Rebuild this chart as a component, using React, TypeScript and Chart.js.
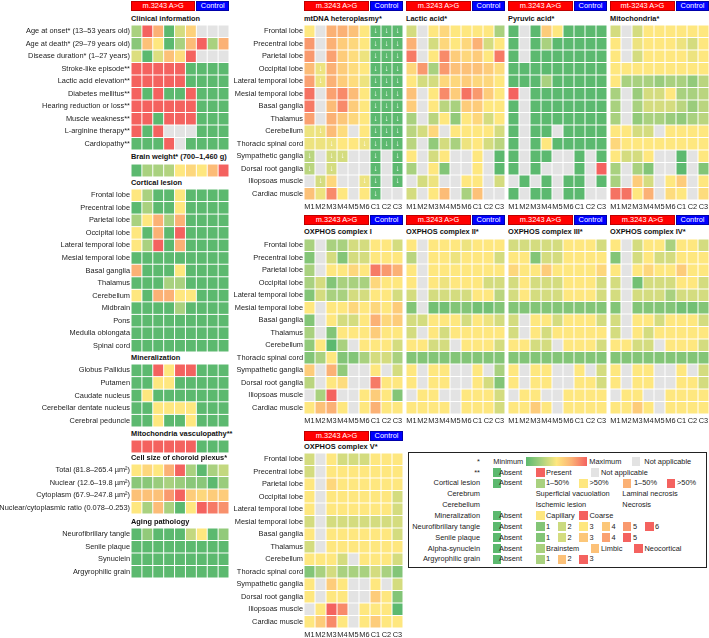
import React, { useEffect, useRef } from "react";
import { Chart, registerables } from "chart.js";
Chart.register(...registerables);

type Cell = number | null;
const N = null;

// ---------- labels ----------
const SAMPLE_COLS = ["M1", "M2", "M3", "M4", "M5", "M6", "C1", "C2", "C3"];
const CLINICAL_ROWS = [
  "Age at onset* (13\u201353 years old)",
  "Age at death* (29\u201379 years old)",
  "Disease duration* (1\u201327 years)",
  "Stroke-like episode**",
  "Lactic acid elevation**",
  "Diabetes mellitus**",
  "Hearing reduction or loss**",
  "Muscle weakness**",
  "L-arginine therapy**",
  "Cardiopathy**",
];
const CORTICAL_ROWS = [
  "Frontal lobe", "Precentral lobe", "Parietal lobe", "Occipital lobe", "Lateral temporal lobe",
  "Mesial temporal lobe", "Basal ganglia", "Thalamus", "Cerebellum", "Midbrain", "Pons",
  "Medulla oblongata", "Spinal cord",
];
const MINERAL_ROWS = ["Globus Pallidus", "Putamen", "Caudate nucleus", "Cerebellar dentate nucleus", "Cerebral peduncle"];
const CELLSIZE_ROWS = [
  "Total (81.8\u2013265.4 \u00b5m\u00b2)",
  "Nuclear (12.6\u201319.8 \u00b5m\u00b2)",
  "Cytoplasm (67.9\u2013247.8 \u00b5m\u00b2)",
  "Nuclear/cytoplasmic ratio (0.078\u20130.253)",
];
const AGING_ROWS = ["Neurofibrillary tangle", "Senile plaque", "Synuclein", "Argyrophilic grain"];
const TISSUE_ROWS = [
  "Frontal lobe", "Precentral lobe", "Parietal lobe", "Occipital lobe", "Lateral temporal lobe",
  "Mesial temporal lobe", "Basal ganglia", "Thalamus", "Cerebellum", "Thoracic spinal cord",
  "Sympathetic ganglia", "Dorsal root ganglia", "Iliopsoas muscle", "Cardiac muscle",
];

// ---------- values (0 = green/minimum/absent ... 4 = red/maximum/present, null = not applicable) ----------
const clinicalValues: Cell[][] = [
  [1, 4, 3, 0, 1.5, 2.4, N, N, N],
  [0.6, 2.7, 2, 0, 1, 2.8, 4, 1, 3],
  [1.6, 0, 1.6, 2.7, 2.2, 4, N, N, N],
  [4, 4, 4, 4, 4, 0, 0, 0, 0],
  [4, 4, 4, 4, 4, 0, 0, 0, 0],
  [4, 0, 4, 0, 0, 4, 0, 0, 0],
  [4, 4, 4, 4, 4, 4, 0, 0, 0],
  [4, 4, 0, 4, 4, 4, 0, 0, 0],
  [4, 0, 4, N, N, N, 0, 0, 0],
  [0, 0, 0, 4, N, 0, 0, 0, 0],
];
const brainWeightValues: Cell[][] = [[0, 1, 1, 1.1, 2, 2.3, 2, 2.8, 4]];
const corticalValues: Cell[][] = [
  [2, 1, 0, 0, 2, 0, 0, 0, 0],
  [0, 1, 0, 0, 2, 0, 0, 0, 0],
  [1, 2, 3, 1, 3, 0, 0, 0, 0],
  [2, 0, 3, 0, 4, 0, 0, 0, 0],
  [2, 1, 4, 0, 3, 0, 0, 0, 0],
  [0, 0, 0, 0, 0, 0, 0, 0, 0],
  [3, 0, 0, 0, 2, 0, 0, 0, 0],
  [0, 0, 0, 1, 1, 0, 0, 0, 0],
  [2, 0, 3, 3, 2, 2, 0, 0, 0],
  [0, 0, 0, 0, 1, 0, 0, 0, 0],
  [0, 0, 0, 0, 0, 0, 0, 0, 0],
  [0, 0, 0, 0, 0, 0, 0, 0, 0],
  [0, 0, 0, 0, 0, 0, 0, 0, 0],
];
const mineralValues: Cell[][] = [
  [0, 0, 4, 2, 4, 4, 0, 0, 0],
  [0, 0, 2, 2, 0, 0, 0, 0, 0],
  [0, 2, 0, 0, 0, 0, 0, 0, 0],
  [0, 0, 2, 2, 2, 2, 0, 0, 0],
  [0, 0, 2, 0, 0, 2, 0, 0, 0],
];
const vasculopathyValues: Cell[][] = [[4, 4, 4, 4, 4, 4, 0, 0, 0]];
const cellSizeValues: Cell[][] = [
  [2, 2.3, 2, 3, 4, 1, 0, 1, 1.3],
  [0.6, 0.6, 0.8, 1, 0.8, 0.6, 0.6, 0, 0.8],
  [2.7, 2.7, 2.7, 3.3, 4, 2.5, 2.3, 2.5, 2.5],
  [2, 1, 2.8, 1, 0, 2, 4, 3.7, 3.4],
];
const agingValues: Cell[][] = [
  [0, 0.7, 0, 0, 0, 1.3, 2, 0, 0.7],
  [0, 0, 0, 0, 0, 0, 0, 0, 0],
  [0, 0, 0, 0, 0, 0, 0, 0, 0],
  [0, 0, 0, 0, 0, 0, 0, 0, 0],
];

const mtdnaValues: Cell[][] = [
  [2, N, 3, 3, 2.7, 2, 0, 0, 0],
  [3.3, N, 3, 2.5, 2.3, 2, 0, 0, 0],
  [3.3, N, 3.2, 2.5, 2.2, 1.8, 0, 0, 0],
  [2.8, 1.8, 3, 2.5, 2.2, 2, 0, 0, 0],
  [3.2, 1.8, 3, 2.5, 2.2, 1.8, 0, 0, 0],
  [3.8, N, 3.2, 3.5, 2.8, 2, 0, 0, 0],
  [3.7, N, 2.8, 3.5, 2.5, 2, 0, 0, 0],
  [3.2, N, 3, 2.6, 2.3, 2, 0, 0, 0],
  [1.8, 1.8, 2.8, 2.2, N, 2, 0, 0, 0],
  [1.8, 1.8, 1.8, 2, 2, 1.8, 0, 0, 0],
  [1.2, N, 1.5, 1.5, N, N, 0, N, 0],
  [1.2, N, 1.5, N, N, N, 0, N, 0],
  [N, 1.5, 2.3, N, N, 1.8, 0, N, 0],
  [2.7, 1.8, 3.5, 2, N, 2, 0, N, N],
];
// 1 = below detection limit (arrow)
const mtdnaBelowDetection: number[][] = [
  [0, 0, 0, 0, 0, 0, 1, 1, 1],
  [0, 0, 0, 0, 0, 0, 1, 1, 1],
  [0, 0, 0, 0, 0, 0, 1, 1, 1],
  [0, 1, 0, 0, 0, 0, 1, 1, 1],
  [0, 1, 0, 0, 0, 0, 1, 1, 1],
  [0, 0, 0, 0, 0, 0, 1, 1, 1],
  [0, 0, 0, 0, 0, 0, 1, 1, 1],
  [0, 0, 0, 0, 0, 0, 1, 1, 1],
  [0, 1, 0, 0, 0, 0, 1, 1, 1],
  [0, 0, 1, 0, 0, 1, 1, 1, 1],
  [1, 0, 1, 1, 0, 0, 1, 0, 1],
  [1, 0, 1, 0, 0, 0, 1, 0, 1],
  [0, 1, 0, 0, 0, 1, 1, 0, 1],
  [0, 0, 0, 0, 0, 0, 1, 0, 0],
];
const lacticValues: Cell[][] = [
  [1.5, N, 2, 2.3, 2, 2, 2, 2, 1],
  [3, N, 1.5, 2.3, 2, 2.3, 3, 1.5, 2],
  [3.7, N, 2, 3.5, 2.5, 2.3, 2.5, 2, 3.7],
  [2.3, 3.3, 1, 3.3, 2.7, 2.7, 2.7, 2.5, 2.2],
  [2, 1.5, 1.5, 2.3, 2.3, 2.5, 2.3, 2.3, 2],
  [2.7, N, 2, 3.5, 2.5, 3.8, 3.3, 2.5, 2],
  [2.5, N, 2, 1.2, 1, 2.5, 2.5, 2, 2],
  [1, N, 1.2, 2, 0.7, 2, 2.3, 1.5, 2],
  [1.2, 1.5, 2.3, N, 2, 2, 2, 2, 1.5],
  [1.2, N, 0.7, 1.5, 1, 1.8, 2, 1.5, 1.2],
  [2, N, 1.5, 2, N, N, 2, N, 0],
  [1, N, 2, 0.5, N, N, 2, N, 0],
  [N, 1.5, 1.8, N, N, 2, 2, N, 1.5],
  [1.5, N, 2, 2.8, N, 1, 2.7, N, N],
];
const pyruvicValues: Cell[][] = [
  [0, N, 0, 2.5, 2, 0, 0, 0, 0],
  [0, N, 0, 1, 0, 0, 0, 0, 0],
  [0, N, 0, 0, 0, 0, 0, 0, 0],
  [0, 0, 0, 0, 0, 0, 0, 0, 0],
  [0, 0, 0, 1, 0, 0, 0, 0, 0],
  [4, N, 0, 0, 0, 0, 0, 0, 0],
  [0, N, 0, 0, 0, 0, 0, 0, 0],
  [0, N, 0, 0, 0, 0, 0, 0, 0],
  [0, N, 0, 0, N, 0, 0, 0, 0],
  [0, N, 0, 2, 0, 0, 0, 0, 0],
  [0, N, 0, 0, N, N, 0, N, 0],
  [0, N, 0, N, N, N, 0, N, 4],
  [N, 0, N, 0, N, 0, 0, N, 0],
  [0, N, 0, 0, N, 0, 0, N, N],
];
const mitochondriaValues: Cell[][] = [
  [1.5, N, 1.5, 2, 2, 2, 2, 2, 2],
  [2, N, 1.8, 2, 2, 2, 1.8, 1.5, 2],
  [2, N, 1.5, 2, 2, 2, 2, 1.8, 2],
  [2, 2, 2, 2, 2, 2, 2, 2, 2],
  [2, 1, 1, 1, 0.8, 1, 1, 0.7, 1.2],
  [1, N, 0.8, 1.5, 1.5, 2, 1, 1, 1.2],
  [1, N, 1, 1.5, 1.5, 1.5, 1.2, 0.8, 1.2],
  [1, N, 0.7, 1, 1, 0.8, 0.7, 1, 1.2],
  [2, 2, 1.5, 1.5, N, 2, 2, 2, 2],
  [2.3, 2, 2, 2, 2, 2, 2, 2, 2],
  [2, 1.5, 1.5, 2, N, N, 0, N, 2],
  [1, N, 1, 0.5, N, N, 0, N, 0.5],
  [1, N, 2.5, 1.5, N, 2, 2.5, N, 2],
  [3.8, 3.8, 2, 3, N, 2.2, 2, N, 2.2],
];
const oxphos1Values: Cell[][] = [
  [1, N, 1, 1, 1.5, 1.5, 2, 2, 1.5],
  [0.5, N, 1.5, 0.5, 1.5, 1.5, 2, 2, 2],
  [1, N, 2, 2, 2.3, 2, 3.7, 3.3, 3],
  [1, 1.5, 0.5, 1, 1, 1, 2.3, 2, 2],
  [0.5, 1.5, 1, 1, 1.5, 1.5, 2, 2, 1.5],
  [2, N, 2, 2, 2.3, 2, 2.3, 2, 2.5],
  [0.5, N, 2, 1.5, 1.5, 2, 3, 2.3, 2.5],
  [1, N, 0.5, 2, 2, 2, 2.5, 2, 2],
  [0.7, 2, 0, 1, N, 2, 2, 2, 1.5],
  [0.5, 1, 2, 0.5, 0.5, 1, 1.5, 1.5, 1],
  [2.5, N, 3, 0.7, N, N, 2, N, 1.5],
  [1.2, N, 2, 2.2, N, N, 3.7, 2, 2],
  [N, 1, 4, N, N, 2, 2.5, 2, 0.5],
  [2, 2.7, 3, 2, N, 2, 3, 2, 2],
];
const oxphos2Values: Cell[][] = [
  [2, N, 2, 2, 2, 1.8, 2, 2, 2],
  [1.2, N, 2, 2, 1.8, 2, 2, 2, 1.5],
  [2, N, 2, 2, 2, 2, 2, 2, 2],
  [2, N, 2, 1.8, 2, 2, 2, 1.5, 1.5],
  [1.5, N, 1.5, 1.5, 1.5, 1.5, 2, 2, 1.2],
  [0.5, N, 0.3, 0.3, 0.5, 0.5, 0.3, 0.3, 0.5],
  [1.5, 1.5, 2, 2, 2, 1.5, 2, 1.8, 1.5],
  [1.5, N, 2, 1.5, 2, 2, 2, 2, 2],
  [2, 2, 1.5, 1.5, N, 2, 2, 2, 1.5],
  [0.5, 0.5, 0.5, 0.5, 0.5, 0.5, 0.5, 0.5, 0.5],
  [2, N, 2, 2, N, N, 2, N, 1],
  [2, N, 2, 2, N, N, 2, 1.5, 0.5],
  [N, 2, 2, N, N, 2, 2, 2, 1.5],
  [2, 2, 2, 2, N, 2, 2, 2, 1.5],
];
const oxphos3Values: Cell[][] = [
  [1.5, 1.5, 1.5, 1.5, 1.5, 2, 2, 2, 1.5],
  [2, 2, 0.5, 1.5, 1.5, 2, 2, 2, 2],
  [2.3, 2, 2, 2.5, 2, 2, 2, 2, 2.3],
  [1.5, 2, 1.5, 1.5, 1.5, 2, 2, 2, 1.5],
  [1.5, 2, 1.5, 1.5, 1.5, 2, 2, 2, 1.5],
  [0.5, 0.5, 0.5, 0.5, 0.5, 0.5, 0.5, 0.5, 0.5],
  [1.5, N, 2, 2, 1.5, 2, 2, 2, 1.5],
  [1.5, N, 2, 1.5, 2, 2, 2, 2, 2],
  [2, 2, 1.5, 1.5, N, 2, 2, 2, 1.5],
  [0.5, 0.5, 0.5, 0.5, 0.5, 0.5, 0.5, 0.5, 0.5],
  [2, N, 2, 2, N, N, 2, N, 1.5],
  [2, N, 2, 2, N, N, 2, 2, 1.5],
  [N, 2, 2, N, N, 2, 2, 2, 2],
  [2, 2, 2.5, 2, N, 2, 2, 2, 2],
];
const oxphos4Values: Cell[][] = [
  [2, N, 1.5, 2, 2, 1, 2, 2, 1.5],
  [0.5, N, 1.5, 2, 1.5, 1.5, 2, 2, 2],
  [2, N, 2, 2.3, 2, 2, 2.5, 2, 2],
  [1.5, N, 0.3, 1.5, 1.5, 1.5, 2, 2, 1.5],
  [1.5, N, 1.5, 1.5, 1.5, 1, 1.5, 1.5, 1.5],
  [0.5, N, 0.5, 0.5, 0.5, 0.5, 0.3, 0.3, 0.5],
  [1.5, N, 2, 2, 1.5, 2, 2, 2, 1.5],
  [1.5, N, 2, 1.5, 2, 2, 2, 2, 2],
  [2, 2, 1.5, 1.5, N, 2, 2, 2, 1.5],
  [0.5, 0.5, 0.5, 0.5, 0.5, 0.5, 0.5, 0.5, 0.5],
  [2, N, 2, 2, N, N, 2, N, 1.5],
  [2, N, 2, 2, N, N, 2, 2, 1.5],
  [N, 2, 2, N, N, 2, 2, 2, 2],
  [2, 2, 2.5, 2, N, 2, 2, 2, 2],
];
const oxphos5Values: Cell[][] = [
  [1.5, N, 2, 1.5, 1.5, 1.5, 2, 2, 2],
  [1.5, N, 2, 2, 2, 2, 2, 2, 2],
  [2, N, 2.3, 2, 2, 2, 2, 2, 2],
  [2, N, 2, 2, 2, 2, 2, 2, 1.5],
  [2, N, 2, 2, 2, 2, 2, 2, 1.5],
  [1.5, N, 1.5, 1.5, 1.5, 1.5, 1.5, 1.5, 1.5],
  [2, N, 2, 2, 2, 2, 2, 2, 1.5],
  [1.5, N, 2, 2, 2, 2, 2, 2, 2],
  [2, 2, 2, 1.5, N, 2, 2, 2, 1.5],
  [0.5, 1, 1.5, 1, 1, 1, 1.5, 1, 0.5],
  [2, N, 2.5, 2, N, N, 2, N, 1.5],
  [2, N, 2, 2, N, N, 2.5, 2, 0.5],
  [N, 2, 4, 3.5, N, 2, 2, 2, 0],
  [2, 2.5, 3.5, 2, N, 2, 2.5, 2, 2],
];

// ---------- colours ----------
const STOPS = [
  [92, 185, 111],
  [169, 209, 127],
  [254, 231, 127],
  [251, 177, 117],
  [244, 98, 95],
];
const NA_COLOR = "#e3e3e3";
function colorFor(v: Cell): string {
  if (v === null) return NA_COLOR;
  const t = Math.max(0, Math.min(4, v));
  const i = Math.min(3, Math.floor(t));
  const f = t - i;
  const a = STOPS[i], b = STOPS[i + 1];
  const c = a.map((x, k) => Math.round(x + (b[k] - x) * f));
  return `rgb(${c[0]},${c[1]},${c[2]})`;
}

const FONT = '"Liberation Sans", Arial, Helvetica, sans-serif';
const FS = 7.4;
const TEXT = "#222";

type HMProps = {
  x: number; y: number; labelW: number; cellW: number; cellH: number;
  rows: string[]; values: Cell[][]; showX?: boolean; arrows?: number[][];
};

function Heatmap({ x, y, labelW, cellW, cellH, rows, values, showX, arrows }: HMProps) {
  const ref = useRef<HTMLCanvasElement>(null);
  const nR = values.length;
  const nC = SAMPLE_COLS.length;
  const xH = showX ? 13 : 0;
  const W = Math.round(labelW + nC * cellW);
  const H = Math.round(nR * cellH + xH);
  useEffect(() => {
    const gap = 0.5 / cellH;
    const datasets = values.map((row, r) => ({
      data: row.map(() => [r + gap, r + 1 - gap]),
      backgroundColor: row.map(colorFor),
      grouped: false,
      barPercentage: 1 - 1 / cellW,
      categoryPercentage: 1,
      borderWidth: 0,
      inflateAmount: 0,
    }));
    const arrowPlugin = {
      id: "arrows",
      afterDatasetsDraw(chart: any) {
        if (!arrows) return;
        const ctx = chart.ctx;
        const xs = chart.scales.x, ys = chart.scales.y;
        ctx.save();
        ctx.fillStyle = "#ffffff";
        ctx.font = `8px ${FONT}`;
        ctx.textAlign = "center";
        ctx.textBaseline = "middle";
        arrows.forEach((row, r) =>
          row.forEach((a, c) => {
            if (a) ctx.fillText("\u2193", xs.getPixelForValue(c), ys.getPixelForValue(r + 0.5));
          })
        );
        ctx.restore();
      },
    };
    const zeroPad = (s: any) => {
      s.paddingLeft = 0; s.paddingRight = 0; s.paddingTop = 0; s.paddingBottom = 0;
    };
    const chart = new Chart(ref.current as HTMLCanvasElement, {
      type: "bar",
      data: { labels: SAMPLE_COLS, datasets: datasets as any },
      options: {
        responsive: false,
        maintainAspectRatio: false,
        animation: false,
        devicePixelRatio: 1,
        layout: { padding: 0 },
        plugins: { legend: { display: false }, tooltip: { enabled: false } },
        scales: {
          x: {
            type: "category",
            display: !!showX,
            grid: { display: false, drawTicks: false, tickLength: 0 },
            border: { display: false },
            ticks: {
              font: { family: FONT, size: FS },
              color: TEXT,
              maxRotation: 0,
              minRotation: 0,
              autoSkip: false,
              padding: 3,
            },
            afterFit: (s: any) => { s.height = xH; zeroPad(s); },
          },
          y: {
            type: "linear",
            min: 0,
            max: nR,
            reverse: true,
            display: labelW > 0,
            grid: { display: false, drawTicks: false, tickLength: 0 },
            border: { display: false },
            afterBuildTicks: (s: any) => {
              s.ticks = rows.map((_, i) => ({ value: i + 0.5 }));
            },
            ticks: {
              font: { family: FONT, size: FS },
              color: TEXT,
              autoSkip: false,
              padding: 1,
              callback: (_v: any, i: number) => rows[i],
            },
            afterFit: (s: any) => { s.width = labelW; zeroPad(s); },
          },
        },
      } as any,
      plugins: [arrowPlugin],
    });
    return () => chart.destroy();
  }, []);
  return (
    <canvas
      ref={ref}
      width={W}
      height={H}
      style={{ position: "absolute", left: x - labelW, top: y, width: W, height: H }}
    />
  );
}

function Title({ x, y, text }: { x: number; y: number; text: string }) {
  return (
    <div style={{ position: "absolute", left: x, top: y - 6, height: 12, lineHeight: "12px", fontSize: FS, fontWeight: "bold", color: "#111", whiteSpace: "nowrap" }}>
      {text}
    </div>
  );
}

function GroupHeader({ x, y, w, label }: { x: number; y: number; w: number; label: string }) {
  const redW = (w * 6) / 9 - 1;
  const base: React.CSSProperties = {
    position: "absolute", top: y, height: 10, lineHeight: "10px", color: "#fff", fontSize: FS,
    textAlign: "center", whiteSpace: "nowrap", boxSizing: "border-box",
  };
  return (
    <>
      <div style={{ ...base, left: x, width: redW, background: "#ff0000", border: "1px solid #c00000", lineHeight: "8px" }}>{label}</div>
      <div style={{ ...base, left: x + redW + 1, width: w - redW - 1, background: "#0000ff", border: "1px solid #0000aa", lineHeight: "8px" }}>Control</div>
    </>
  );
}

const LEFT_X = 131;
const LEFT_CW = 10.9;
const CH = 12.5;
const MID_X = [304, 406, 508, 610];
const MID_CW = 11;
const ROW_Y = [25, 239, 453];

type Sq = { x: number; c: string; t?: string; tx?: number };
const G0 = colorFor(0), RD = colorFor(4), YL = colorFor(2), LG = colorFor(1), OR = colorFor(3);

function Legend() {
  const rowsY = [461.7, 472.7, 483.2, 494, 504.6, 515.7, 526.5, 537.7, 548.7, 559.3];
  const names = ["*", "**", "Cortical lesion", "Cerebrum", "Cerebellum", "Mineralization", "Neurofibrillary tangle", "Senile plaque", "Alpha-synuclein", "Argyrophilic grain"];
  const items: Sq[][] = [
    [],
    [{ x: 492.7, c: G0, t: "Absent", tx: 499 }, { x: 536, c: RD, t: "Present", tx: 546 }, { x: 590.7, c: NA_COLOR, t: "Not applicable", tx: 601 }],
    [{ x: 492.7, c: G0, t: "Absent", tx: 499 }, { x: 536, c: LG, t: "1\u201350%", tx: 546 }, { x: 579.3, c: YL, t: ">50%", tx: 589.5 }, { x: 622.7, c: OR, t: "1\u201350%", tx: 634 }, { x: 666.7, c: RD, t: ">50%", tx: 677 }],
    [{ x: -1, c: "", t: "Superficial vacuolation", tx: 535.7 }, { x: -1, c: "", t: "Laminal necrosis", tx: 622.3 }],
    [{ x: -1, c: "", t: "Ischemic lesion", tx: 535.7 }, { x: -1, c: "", t: "Necrosis", tx: 622.3 }],
    [{ x: 492.7, c: G0, t: "Absent", tx: 499 }, { x: 536, c: YL, t: "Capillary", tx: 546 }, { x: 579.3, c: RD, t: "Coarse", tx: 589.5 }],
    [{ x: 492.7, c: G0, t: "Absent", tx: 499 }, { x: 536, c: colorFor(0.5), t: "1", tx: 546 }, { x: 557.7, c: colorFor(1.4), t: "2", tx: 567.5 }, { x: 579.3, c: YL, t: "3", tx: 589.5 }, { x: 601.7, c: colorFor(2.6), t: "4", tx: 611.5 }, { x: 622.7, c: colorFor(3.3), t: "5", tx: 633 }, { x: 645, c: RD, t: "6", tx: 655 }],
    [{ x: 492.7, c: G0, t: "Absent", tx: 499 }, { x: 536, c: colorFor(0.5), t: "1", tx: 546 }, { x: 557.7, c: colorFor(1.5), t: "2", tx: 567.5 }, { x: 579.3, c: colorFor(2.6), t: "3", tx: 589.5 }, { x: 601.7, c: colorFor(3.2), t: "4", tx: 611.5 }, { x: 622.7, c: RD, t: "5", tx: 633 }],
    [{ x: 492.7, c: G0, t: "Absent", tx: 499 }, { x: 536, c: LG, t: "Brainstem", tx: 546 }, { x: 590.7, c: colorFor(2.7), t: "Limbic", tx: 601 }, { x: 634.3, c: RD, t: "Neocortical", tx: 644.5 }],
    [{ x: 492.7, c: G0, t: "Absent", tx: 499 }, { x: 536, c: LG, t: "1", tx: 546 }, { x: 557.7, c: colorFor(2.7), t: "2", tx: 567.5 }, { x: 579.3, c: RD, t: "3", tx: 589.5 }],
  ];
  const txt = (x: number, y: number, t: string, align: "left" | "right" = "left", key?: string) => (
    <div key={key} style={{ position: "absolute", top: y - 5, height: 10, lineHeight: "10px", fontSize: FS, color: TEXT, whiteSpace: "nowrap", ...(align === "left" ? { left: x } : { right: 709 - x }) }}>{t}</div>
  );
  return (
    <>
      <div style={{ position: "absolute", left: 408, top: 452, width: 299, height: 116, border: "1.5px solid #222", boxSizing: "border-box" }} />
      {rowsY.map((y, i) => txt(480, y, names[i], "right", "n" + i))}
      {txt(493.3, rowsY[0], "Minimum", "left", "min")}
      <div style={{ position: "absolute", left: 525.7, top: rowsY[0] - 4.5, width: 61.6, height: 9, background: `linear-gradient(to right, ${colorFor(0)}, ${colorFor(1)}, ${colorFor(2)}, ${colorFor(3)}, ${colorFor(4)})` }} />
      {txt(589.3, rowsY[0], "Maximum", "left", "max")}
      <div style={{ position: "absolute", left: 631.7, top: rowsY[0] - 4.5, width: 8.5, height: 9, background: NA_COLOR }} />
      {txt(644.3, rowsY[0], "Not applicable", "left", "na")}
      {items.map((row, i) =>
        row.map((it, j) => (
          <React.Fragment key={`${i}-${j}`}>
            {it.x > 0 && (
              <div style={{ position: "absolute", left: it.x, top: rowsY[i] - 4.5, width: 8.5, height: 9, background: it.c }} />
            )}
            {it.t && txt(it.tx as number, rowsY[i], it.t)}
          </React.Fragment>
        ))
      )}
    </>
  );
}

export default function App() {
  const leftW = LEFT_CW * 9;
  const midW = MID_CW * 9;
  const leftSections: { title: string; ty: number; y: number; rows: string[]; values: Cell[][] }[] = [
    { title: "Clinical information", ty: 19, y: 25, rows: CLINICAL_ROWS, values: clinicalValues },
    { title: "Brain weight* (700\u20131,460 g)", ty: 157, y: 163.5, rows: [""], values: brainWeightValues },
    { title: "Cortical lesion", ty: 182.5, y: 189, rows: CORTICAL_ROWS, values: corticalValues },
    { title: "Mineralization", ty: 358, y: 364, rows: MINERAL_ROWS, values: mineralValues },
    { title: "Mitochondria vasculopathy**", ty: 434, y: 440, rows: [""], values: vasculopathyValues },
    { title: "Cell size of choroid plexus*", ty: 458.3, y: 464.3, rows: CELLSIZE_ROWS, values: cellSizeValues },
    { title: "Aging pathology", ty: 522, y: 528, rows: AGING_ROWS, values: agingValues },
  ];
  const midPanels: { title: string; col: number; row: number; values: Cell[][]; arrows?: number[][]; head?: string }[] = [
    { title: "mtDNA heteroplasmy*", col: 0, row: 0, values: mtdnaValues, arrows: mtdnaBelowDetection },
    { title: "Lactic acid*", col: 1, row: 0, values: lacticValues },
    { title: "Pyruvic acid*", col: 2, row: 0, values: pyruvicValues },
    { title: "Mitochondria*", col: 3, row: 0, values: mitochondriaValues, head: "mt-3243 A>G" },
    { title: "OXPHOS complex I", col: 0, row: 1, values: oxphos1Values },
    { title: "OXPHOS complex II*", col: 1, row: 1, values: oxphos2Values },
    { title: "OXPHOS complex III*", col: 2, row: 1, values: oxphos3Values },
    { title: "OXPHOS complex IV*", col: 3, row: 1, values: oxphos4Values },
    { title: "OXPHOS complex V*", col: 0, row: 2, values: oxphos5Values },
  ];
  const headerY = [1, 214.5, 431];
  const titleY = [19, 232, 447];
  return (
    <div style={{ position: "fixed", left: 0, top: 0, width: 709, height: 638, background: "#fff", fontFamily: FONT, overflow: "hidden" }}>
      <GroupHeader x={LEFT_X} y={1} w={leftW} label="m.3243 A>G" />
      {leftSections.map((s, i) => (
        <React.Fragment key={"l" + i}>
          <Title x={LEFT_X} y={s.ty} text={s.title} />
          <Heatmap x={LEFT_X} y={s.y} labelW={LEFT_X} cellW={LEFT_CW} cellH={CH} rows={s.rows} values={s.values} />
        </React.Fragment>
      ))}
      {midPanels.map((p, i) => {
        const x = MID_X[p.col];
        return (
          <React.Fragment key={"m" + i}>
            <GroupHeader x={x} y={headerY[p.row]} w={midW} label={p.head || "m.3243 A>G"} />
            <Title x={x} y={titleY[p.row]} text={p.title} />
            <Heatmap
              x={x}
              y={ROW_Y[p.row]}
              labelW={p.col === 0 ? 74 : 0}
              cellW={MID_CW}
              cellH={CH}
              rows={TISSUE_ROWS}
              values={p.values}
              showX
              arrows={p.arrows}
            />
          </React.Fragment>
        );
      })}
      <Legend />
    </div>
  );
}
